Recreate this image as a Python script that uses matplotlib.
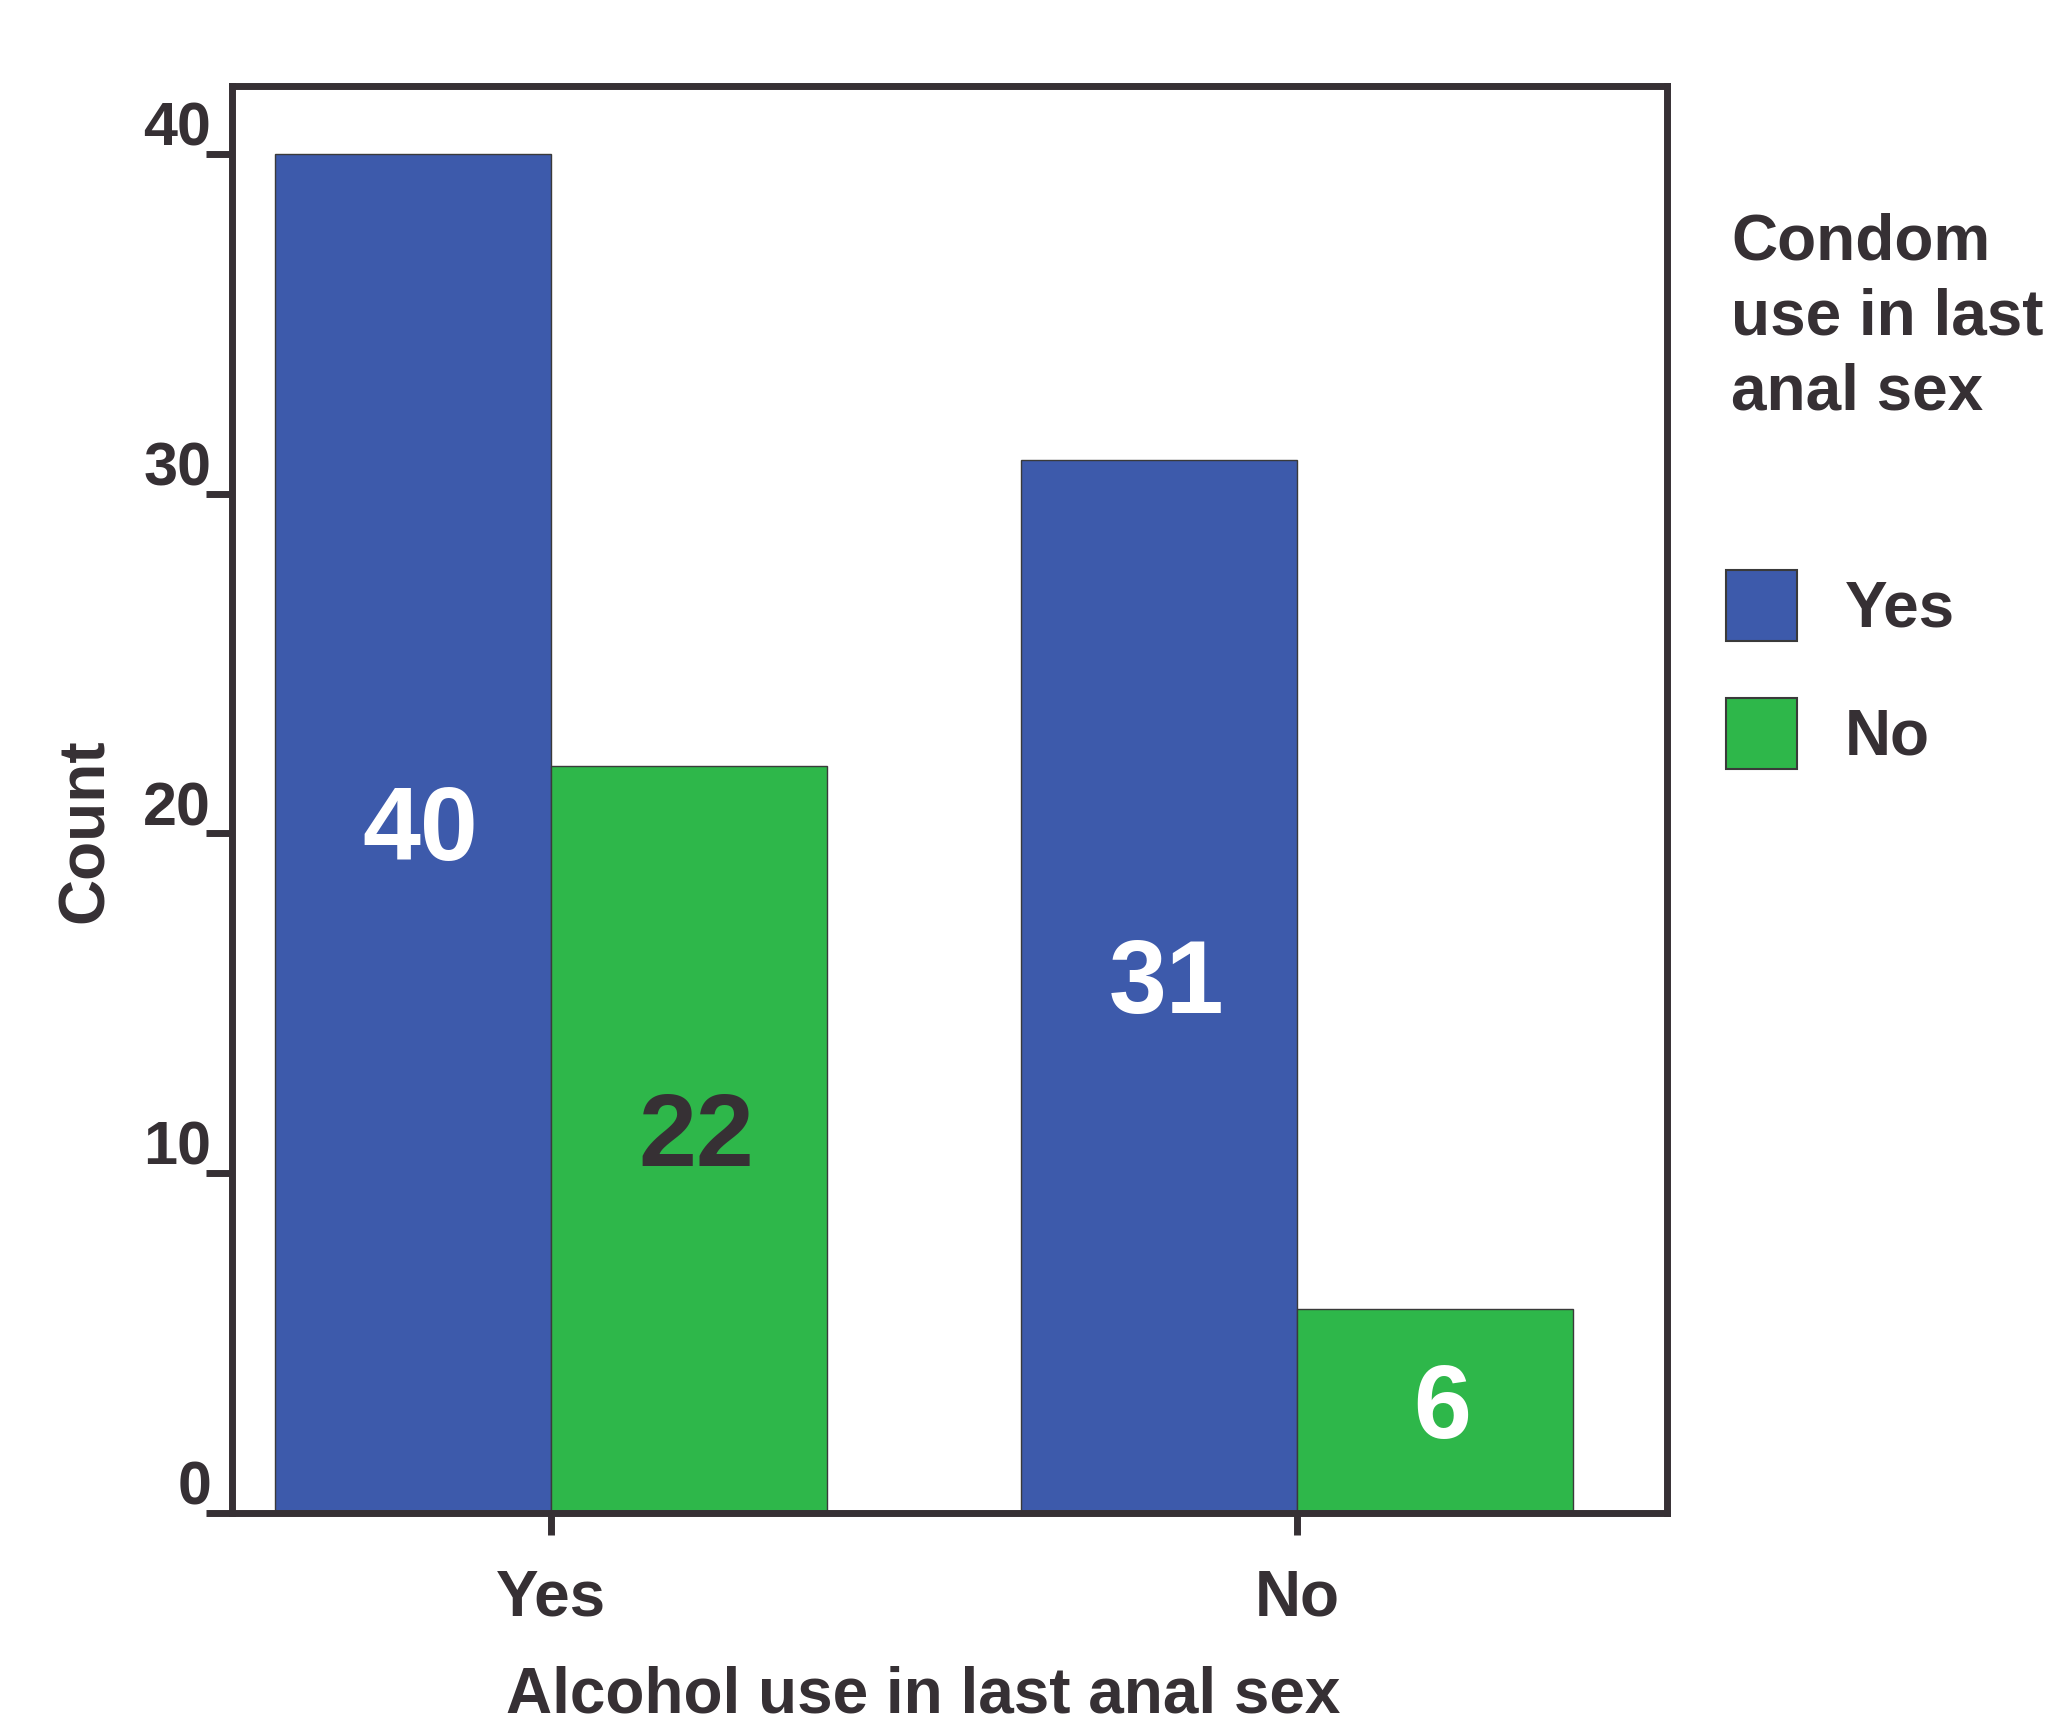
import matplotlib
matplotlib.use('Agg')
import matplotlib.pyplot as plt
import matplotlib.transforms as mtransforms
from matplotlib.patches import Patch
import numpy as np

plt.rcParams['font.family'] = ['Liberation Sans', 'DejaVu Sans']
plt.rcParams['font.weight'] = 'bold'

# data
alcohol = ['Yes', 'No']
condom = ['Yes', 'No']
condom_yes = [40, 31]
condom_no = [22, 6]
yticks = [0, 10, 20, 30, 40]

dark = '#363034'
blue = '#3d5aab'
green = '#2eb74a'

fig = plt.figure(figsize=(20.49, 17.26), dpi=100)
ax = fig.add_axes([0.1132, 0.1234, 0.7004, 0.8268])

x = np.arange(len(alcohol))
w = 0.37
b1 = ax.bar(x - w / 2, condom_yes, w, color=blue, edgecolor='#3a3a3a', linewidth=1.0)
b2 = ax.bar(x + w / 2, condom_no, w, color=green, edgecolor='#3a3a3a', linewidth=1.0)

# value labels inside bars
for bars, vals, cols in [(b1, condom_yes, ['white', 'white']), (b2, condom_no, [dark, 'white'])]:
    for r, v, c in zip(bars, vals, cols):
        ax.text(r.get_x() + r.get_width() / 2 + 0.01, v / 2, str(v), ha='center', va='center',
                fontsize=75, fontweight='bold', color=c)

ax.set_xlim(-0.428, 1.496)
ax.set_ylim(0, 42)
ax.set_xticks(x)
ax.set_xticklabels(alcohol)
ax.set_yticks(yticks)
ax.set_yticklabels([str(t) for t in yticks])

for s in ax.spines.values():
    s.set_linewidth(5)
    s.set_color(dark)

ax.tick_params(axis='x', length=16, width=5, color=dark, pad=24, labelsize=46, labelcolor=dark)
ax.tick_params(axis='y', length=19, width=5, color=dark, pad=-4, labelsize=44, labelcolor=dark)

# y tick labels sit just above their ticks
off = mtransforms.ScaledTranslation(0, 6 / 72, fig.dpi_scale_trans)
for lab in ax.get_yticklabels():
    lab.set_verticalalignment('baseline')
    lab.set_transform(lab.get_transform() + off)

ax.text(-0.102, 0.478, 'Count', transform=ax.transAxes, rotation=90, ha='center', va='center',
        fontsize=46, fontweight='bold', color=dark)
fig.text(923 / 2049, 1 - 1712 / 1726, 'Alcohol use in last anal sex', ha='center', va='baseline',
         fontsize=46, fontweight='bold', color=dark)

# legend
fig.text(1731 / 2049, 1 - 212 / 1726, 'Condom\nuse in last\nanal sex', ha='left', va='top',
         fontsize=46, fontweight='bold', color=dark, linespacing=1.32)
handles = [Patch(facecolor=blue, edgecolor='#3a3a3a', linewidth=1.5),
           Patch(facecolor=green, edgecolor='#3a3a3a', linewidth=1.5)]
leg = fig.legend(handles, condom, loc='upper left', bbox_to_anchor=(1726 / 2049, 1 - 570 / 1726),
                 frameon=False, fontsize=46, handlelength=1.11, handleheight=1.34,
                 handletextpad=0.75, labelspacing=0.88, borderpad=0, borderaxespad=0)
for t in leg.get_texts():
    t.set_color(dark)
    t.set_fontweight('bold')

fig.savefig('out.png', dpi=100)
